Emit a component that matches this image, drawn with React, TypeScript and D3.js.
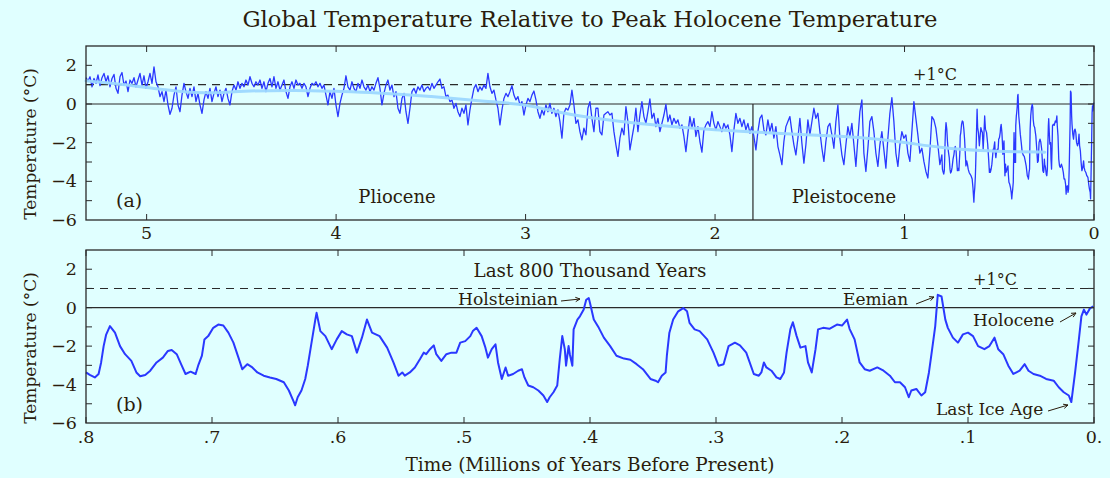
import React from "react";
import * as d3 from "d3";

// ---------- DATA ----------
// Panel (a): record older than 0.8 Myr, sampled every ~10.55 kyr from 5.32 Myr
const olderStartMyr = 5.32;
const olderStepMyr = 0.010554;
const olderTemps = [
  // 5.32 - 4.41 Myr
  1.36, 1.19, 1.41, 0.89, 1.32, 1.07, 1.5, 0.95, 1.36, 1.58, 1.15, 1.46, 0.89, 1.32, 1.53, 0.81, 0.55, 1.41, 1.63, 0.98,
  1.19, 0.64, 1.24, 1.07, 1.36, 0.89, 1.24, 1.58, 0.98, 1.46, 0.81, 1.15, 1.58, 1.07, 1.92, 1.15, 0.89, 0.38, 0.64, 0.12,
  0.72, -0.05, -0.53, -0.22, 0.46, 0.89, -0.05, -0.4, 0.46, 1.07, 0.64, 0.29, 0.81, 0.38, 0.89, 0.12, 0.55, -0.05, -0.48, 0.21,
  0.64, 0.29, 0.81, 0.12, 0.55, 0.89, 0.38, 0.72, 0.12, 0.55, 0.81, 0.29, -0.05, 0.64, 0.98, 0.72, 1.15, 0.81, 1.07, 0.89,
  1.24, 0.98, 1.41, 1.07, 0.89, 1.15,
  // 4.40 - 3.51 Myr
  0.98, 1.24, 0.81, 1.15, 0.64, 1.07, 1.32, 0.89, 1.41, 0.81, 1.15, 0.72, 0.98, 1.24, 0.64, 0.29, 0.89, 1.15, 0.81, 1.24,
  0.98, 1.07, 0.81, 1.07, 0.89, 0.38, 0.81, 1.07, 0.98, 1.15, 0.89, 1.07, 0.81, 0.98, 0.46, -0.05, 0.64, 0.29, 0.81, -0.05,
  -0.65, 0.03, 0.46, 0.81, 1.46, 0.89, 0.72, 1.15, 0.81, 0.64, 1.07, 0.81, 1.24, 0.89, 0.72, 0.98, 0.64, 0.89, 0.72, 1.07,
  1.36, 0.81, -0.05, 0.55, 0.98, 1.24, 0.72, 0.98, 0.38, 0.64, -0.22, -0.48, 0.29, 0.55, -0.4, -1.0, -0.22, 0.64, 0.81, 0.55,
  0.89, 0.72, 0.98, 0.64, 0.81,
  // 3.50 - 2.63 Myr
  0.89, 0.72, 1.07, 0.81, 0.98, 1.15, 1.29, 0.81, 0.89, 0.38, 0.46, 0.12, 0.21, -0.22, 0.03, -0.4, -0.65, -0.22, -0.48, -0.05,
  -1.08, -0.31, 0.29, 0.81, 1.01, 0.64, 0.89, 0.72, 0.98, 0.81, 1.58, 0.89, 0.55, 0.72, 0.21, -0.22, -1.08, -0.31, 0.29, 0.55,
  0.38, 0.64, 0.95, 0.46, 0.21, 0.38, -0.05, 0.12, -0.57, -0.05, 0.29, 0.12, 0.46, 0.67, 0.21, -0.4, -0.74, -0.31, -0.57, -0.05,
  -0.4, 0.03, -0.48, -0.22, -0.65, -0.31, -0.91, -1.77, -0.48, -0.22, -0.31, -0.05, 0.72, -0.05, -1.0, -0.82, -1.43, -1.86, -1.25, -1.6,
  -0.22, 0.12, -0.74, -1.43, -0.22,
  // 2.62 - 1.73 Myr
  -0.22, -1.43, -1.6, -0.57, -0.48, -0.4, -0.57, -0.48, -1.43, -2.11, -2.71, -1.77, -1.25, -1.6, -0.14, -0.91, -2.37, -1.77, -1.17, -0.22,
  -1.43, -0.57, 0.12, -0.65, -1.0, -0.4, 0.26, -0.74, -0.48, -1.17, -0.74, -1.43, -1.0, -0.57, -0.02, -0.91, -0.57, -1.08, -0.74, -1.0,
  -0.82, -1.25, -1.08, -1.68, -2.46, -1.51, -0.65, -1.25, -0.74, -1.68, -1.17, -1.94, -2.49, -1.34, -1.08, -0.91, -1.17, -0.4, -1.0, -1.34,
  -0.91, -1.17, -1.43, -1.0, -1.25, -1.08, -1.6, -2.46, -1.34, -0.48, -1.0, -0.74, -1.17, -0.82, -1.34, -1.0, -1.51, -1.17, -1.68, -2.37,
  -1.43, -0.74, -0.57, -1.34, -1.6,
  // 1.72 - 0.80 Myr
  -0.82, -1.43, -1.0, -1.77, -1.17, -2.2, -2.63, -3.14, -1.94, -1.17, -0.91, -0.65, -1.43, -2.11, -2.63, -1.77, -0.74, -2.03, -3.06, -2.11,
  -0.82, -1.6, -0.91, -0.22, -0.74, -0.48, -1.43, -2.29, -2.97, -1.94, -1.17, -1.0, -1.6, -2.29, -0.91, -0.05, -1.77, -2.63, -3.14, -2.11,
  -1.17, -1.68, -1.0, -2.11, -3.23, -1.77, -0.4, 0.21, -2.54, -3.49, -2.29, -0.91, -0.65, -1.43, -2.54, -3.23, -2.11, -1.43, -2.37, -3.32,
  -1.77, -0.48, 0.33, -0.91, -2.54, -3.23, -2.11, -1.43, -1.77, -1.6, -2.54, -2.97, -1.43, 0.12, -0.74, -1.6, -2.54, -2.29, -2.97, -3.49,
  -3.83, -2.46, -0.65, -0.82, -1.25, -2.11, -3.14, -2.63,
];

// Panel (b): last 800 thousand years (kyr before present, °C)
const recentKyr = [
  800, 797, 793, 790, 788, 786, 784, 781, 777, 773, 769, 764, 760, 757, 753, 749, 744, 739, 735, 732,
  728, 724, 721, 717, 713, 711, 708, 706, 703, 699, 695, 691, 687, 683, 679, 676, 672, 668, 664, 659,
  654, 649, 643, 639, 635, 634, 632, 629, 626, 624, 621, 618, 617, 614, 610, 605, 601, 597, 593, 589,
  585, 581, 577, 573, 567, 561, 556, 552, 549, 547, 543, 539, 535, 532, 530, 527, 524, 522, 518, 514,
  510, 506, 503, 499, 495, 493, 490, 486, 483, 481, 478, 475, 473, 470, 467, 465, 461, 457, 454, 452,
  449, 445, 441, 437, 434, 432, 429, 426, 424, 422, 420, 419, 417, 416, 414, 413, 410, 408, 405, 403,
  401, 400, 397, 393, 389, 384, 379, 373, 368, 363, 358, 352, 348, 346, 343, 340, 339, 337, 334, 330,
  326, 323, 321, 317, 313, 307, 302, 298, 294, 290, 285, 281, 276, 270, 266, 264, 262, 260, 256, 252,
  249, 246, 244, 241, 239, 236, 233, 229, 227, 224, 221, 219, 215, 210, 204, 200, 196, 194, 190, 186,
  182, 178, 172, 167, 162, 158, 154, 150, 147, 145, 141, 137, 134, 131, 129, 126, 124, 121, 118, 116,
  112, 108, 104, 100, 96, 92, 87, 83, 79, 76, 72, 68, 64, 59, 55, 52, 48, 43, 38, 32,
  28, 24, 20, 18, 15, 12, 10, 8, 6, 3, 0.5,
];
const recentTemps = [
  -3.37, -3.5, -3.63, -3.45, -2.85, -2.0, -1.4, -0.96, -1.3, -2.0, -2.42, -2.77, -3.37, -3.57, -3.5, -3.28, -2.85, -2.6, -2.25, -2.2,
  -2.42, -3.02, -3.45, -3.33, -3.45, -3.02, -2.5, -1.65, -1.48, -1.05, -0.88, -0.93, -1.3, -1.82, -2.6, -3.2, -2.94, -3.11, -3.37, -3.54,
  -3.63, -3.71, -3.88, -4.31, -4.91, -5.08, -4.66, -4.31, -3.71, -3.02, -1.82, -0.62, -0.27, -1.22, -1.48, -2.16, -1.65, -1.22, -1.39, -1.48,
  -2.34, -1.56, -0.62, -1.3, -1.48, -2.08, -2.85, -3.54, -3.37, -3.54, -3.37, -3.11, -2.68, -2.34, -2.42, -2.16, -1.96, -2.42, -2.77, -2.42,
  -2.34, -2.34, -1.82, -1.74, -1.48, -1.22, -1.05, -1.48, -2.08, -2.6, -2.16, -1.91, -2.85, -3.71, -3.11, -3.54, -3.45, -3.28, -3.2, -3.63,
  -4.05, -4.14, -4.31, -4.57, -4.91, -4.66, -4.4, -4.05, -2.68, -1.48, -2.16, -3.02, -2.0, -2.42, -3.02, -1.13, -0.62, -0.45, -0.1, 0.41,
  0.5, 0.24, -0.62, -1.05, -1.56, -2.0, -2.5, -2.65, -2.71, -2.94, -3.2, -3.71, -3.8, -3.88, -3.54, -3.37, -2.5, -1.3, -0.62, -0.19,
  -0.02, -0.19, -0.79, -1.13, -1.22, -1.65, -2.34, -3.02, -2.94, -2.0, -1.82, -1.96, -2.34, -3.45, -3.54, -3.37, -2.85, -3.11, -3.28, -3.63,
  -3.71, -3.37, -2.34, -1.13, -0.76, -1.48, -2.08, -2.0, -2.85, -3.37, -2.16, -1.13, -1.05, -1.1, -0.88, -0.93, -0.62, -1.1, -1.65, -2.85,
  -3.2, -3.28, -3.11, -3.28, -3.54, -3.88, -3.88, -4.14, -4.66, -4.31, -4.23, -4.57, -4.4, -3.37, -2.42, -0.96, 0.67, 0.58, -0.62, -1.05,
  -1.56, -1.82, -1.39, -1.3, -1.48, -2.0, -2.16, -2.0, -1.56, -2.16, -2.42, -3.02, -3.45, -3.28, -2.94, -3.28, -3.45, -3.54, -3.71, -3.8,
  -4.14, -4.4, -4.57, -4.91, -3.37, -1.65, -0.45, -0.1, -0.36, -0.02, 0.07,
];

// Smoothed long-term trend of panel (a)
const trendMyr = [5.32, 5.1, 4.9, 4.7, 4.5, 4.2, 4.0, 3.8, 3.5, 3.2, 3.0, 2.8, 2.6, 2.4, 2.2, 2.0, 1.8, 1.6, 1.4, 1.2, 1.0, 0.8, 0.6, 0.4, 0.26];
const trendTemps = [1.2, 1.0, 0.72, 0.52, 0.68, 0.72, 0.65, 0.6, 0.4, 0.12, 0.0, -0.5, -0.78, -1.02, -1.2, -1.33, -1.45, -1.55, -1.64, -1.75, -1.98, -2.28, -2.42, -2.47, -2.49];

const yTicks = [-6, -4, -2, 0, 2];
const yMinorTicks = [-5, -4, -3, -2, -1, 0, 1, 2];
const xTicksA = [5, 4, 3, 2, 1, 0];
const xTicksB = [800, 700, 600, 500, 400, 300, 200, 100, 0];
const xTickLabelsB = [".8", ".7", ".6", ".5", ".4", ".3", ".2", ".1", "0."];
const pleistoceneStart = 1.8;

// ---------- STYLE ----------
const BG = "#e0ffff";
const INK = "#2b1c0c";
const AXIS = "#2a2a2a";
const FONT = "'DejaVu Serif', 'Liberation Serif', serif";

const L = 86, R = 1094;

function fmtMinus(v: number) {
  return v < 0 ? "\u2212" + Math.abs(v) : String(v);
}

function Arrow({ x1, y1, x2, y2 }: { x1: number; y1: number; x2: number; y2: number }) {
  const ang = Math.atan2(y2 - y1, x2 - x1);
  const h = 5;
  const a1 = ang + Math.PI - 0.45, a2 = ang + Math.PI + 0.45;
  return (
    <g stroke={INK} strokeWidth={1} fill="none">
      <line x1={x1} y1={y1} x2={x2} y2={y2} />
      <path d={`M${x2 + h * Math.cos(a1)},${y2 + h * Math.sin(a1)} L${x2},${y2} L${x2 + h * Math.cos(a2)},${y2 + h * Math.sin(a2)}`} />
    </g>
  );
}

export default function App() {
  // Panel a scales
  const xa = d3.scaleLinear().domain([5.32, 0]).range([L, R]);
  const ya = d3.scaleLinear().domain([-6, 3]).range([220, 46]);
  // Panel b scales
  const xb = d3.scaleLinear().domain([800, 0]).range([L, R]);
  const yb = d3.scaleLinear().domain([-6, 3]).range([423, 250]);

  const seriesA: [number, number][] = [
    ...olderTemps.map((v, i) => [olderStartMyr - i * olderStepMyr, v] as [number, number]),
    ...recentKyr.map((k, i) => [k / 1000, recentTemps[i]] as [number, number]),
  ];
  const lineA = d3.line<[number, number]>().x((d) => xa(d[0])).y((d) => ya(d[1]));
  const trendLine = d3
    .line<[number, number]>()
    .x((d) => xa(d[0]))
    .y((d) => ya(d[1]))
    .curve(d3.curveBasis);
  const trendPts = trendMyr.map((t, i) => [t, trendTemps[i]] as [number, number]);

  const seriesB = recentKyr.map((k, i) => [k, recentTemps[i]] as [number, number]);
  const lineB = d3.line<[number, number]>().x((d) => xb(d[0])).y((d) => yb(d[1]));

  const yAxis = (y: d3.ScaleLinear<number, number>, key: string) => (
    <g key={key}>
      {yMinorTicks.map((t) => (
        <g key={t}>
          <line x1={L} x2={L + 6} y1={y(t)} y2={y(t)} stroke={AXIS} strokeWidth={1} />
          <line x1={R - 6} x2={R} y1={y(t)} y2={y(t)} stroke={AXIS} strokeWidth={1} />
        </g>
      ))}
      {yTicks.map((t) => (
        <text key={"l" + t} x={77} y={y(t) + 6} textAnchor="end" fontSize={17.5} fill={INK} fontFamily={FONT}>
          {fmtMinus(t)}
        </text>
      ))}
    </g>
  );

  return (
    <svg width={1110} height={478} style={{ position: "absolute", left: 0, top: 0, display: "block" }} fontFamily={FONT}>
      <rect x={0} y={0} width={1110} height={478} fill={BG} />
      <text x={590} y={27} textAnchor="middle" fontSize={22.7} fill={INK}>
        Global Temperature Relative to Peak Holocene Temperature
      </text>

      {/* ---------- Panel a ---------- */}
      <line x1={L} x2={R} y1={ya(1)} y2={ya(1)} stroke={AXIS} strokeWidth={1.1} strokeDasharray="8,6" />
      <line x1={L} x2={R} y1={ya(0)} y2={ya(0)} stroke={AXIS} strokeWidth={1.2} />
      <line x1={xa(pleistoceneStart)} x2={xa(pleistoceneStart)} y1={ya(0)} y2={ya(-6)} stroke={AXIS} strokeWidth={1.2} />
      <path d={lineA(seriesA) || ""} fill="none" stroke="#2a38ff" strokeWidth={1.3} strokeLinejoin="round" />
      <path d={trendLine(trendPts) || ""} fill="none" stroke="#9cd8ff" strokeWidth={3} strokeLinecap="round" opacity={0.95} />
      <rect x={L} y={46} width={R - L} height={174} fill="none" stroke={AXIS} strokeWidth={1.3} />
      {xTicksA.map((t) => (
        <g key={t}>
          <line x1={xa(t)} x2={xa(t)} y1={220} y2={214} stroke={AXIS} strokeWidth={1} />
          <line x1={xa(t)} x2={xa(t)} y1={46} y2={52} stroke={AXIS} strokeWidth={1} />
          <text x={xa(t)} y={239} textAnchor="middle" fontSize={17.5} fill={INK}>
            {t}
          </text>
        </g>
      ))}
      {yAxis(ya, "ya")}
      <text x={935} y={80} textAnchor="middle" fontSize={16} fill={INK}>+1°C</text>
      <text x={397} y={203} textAnchor="middle" fontSize={18} fill={INK}>Pliocene</text>
      <text x={844} y={203} textAnchor="middle" fontSize={18} fill={INK}>Pleistocene</text>
      <text x={116} y={207} fontSize={19} fill={INK}>(a)</text>
      <text transform={`translate(36,${144}) rotate(-90)`} textAnchor="middle" fontSize={17} fill={INK}>
        Temperature (°C)
      </text>

      {/* ---------- Panel b ---------- */}
      <line x1={L} x2={R} y1={yb(1)} y2={yb(1)} stroke={AXIS} strokeWidth={1.1} strokeDasharray="8,6" />
      <line x1={L} x2={R} y1={yb(0)} y2={yb(0)} stroke={AXIS} strokeWidth={1.2} />
      <path d={lineB(seriesB) || ""} fill="none" stroke="#2a38ff" strokeWidth={2} strokeLinejoin="round" />
      <rect x={L} y={250} width={R - L} height={173} fill="none" stroke={AXIS} strokeWidth={1.3} />
      {xTicksB.map((t, i) => (
        <g key={t}>
          <line x1={xb(t)} x2={xb(t)} y1={423} y2={417} stroke={AXIS} strokeWidth={1} />
          <line x1={xb(t)} x2={xb(t)} y1={250} y2={256} stroke={AXIS} strokeWidth={1} />
          <text x={xb(t)} y={443} textAnchor="middle" fontSize={17.5} fill={INK}>
            {xTickLabelsB[i]}
          </text>
        </g>
      ))}
      {yAxis(yb, "yb")}
      <text x={590} y={277} textAnchor="middle" fontSize={18.3} fill={INK}>Last 800 Thousand Years</text>
      <text x={995} y={285} textAnchor="middle" fontSize={16} fill={INK}>+1°C</text>
      <text x={458} y={305} fontSize={17.2} fill={INK}>Holsteinian</text>
      <Arrow x1={561} y1={301} x2={580} y2={299} />
      <text x={843} y={305} fontSize={17} fill={INK}>Eemian</text>
      <Arrow x1={916} y1={304} x2={934} y2={297} />
      <text x={973} y={326} fontSize={17} fill={INK}>Holocene</text>
      <Arrow x1={1060} y1={322} x2={1076} y2={313} />
      <text x={936} y={415} fontSize={17} fill={INK}>Last Ice Age</text>
      <Arrow x1={1048} y1={411} x2={1068} y2={405} />
      <text x={116} y={411} fontSize={19} fill={INK}>(b)</text>
      <text transform={`translate(36,${348}) rotate(-90)`} textAnchor="middle" fontSize={17} fill={INK}>
        Temperature (°C)
      </text>

      <text x={590} y={471} textAnchor="middle" fontSize={18.5} fill={INK}>
        Time (Millions of Years Before Present)
      </text>
    </svg>
  );
}
